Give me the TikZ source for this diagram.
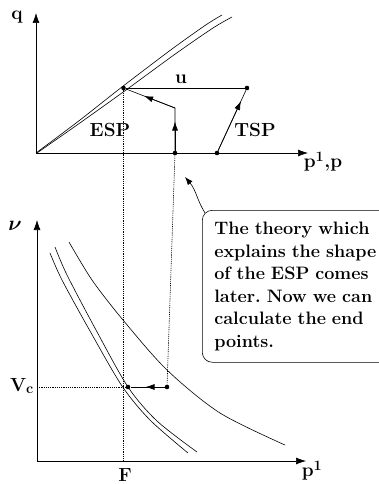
\documentclass[tikz,border=0pt]{standalone}
\usepackage{amsmath,bm}
\usetikzlibrary{arrows.meta,calc}
\frenchspacing

\begin{document}
\begin{tikzpicture}[x=1pt, y=-1pt,
    axis/.style={-{Latex[length=10pt,width=7pt]}, line width=0.6pt},
    trace/.style={line width=0.6pt},
    flow/.style={-{Latex[length=9pt,width=6pt]}, line width=0.7pt},
    guide/.style={dash pattern=on 1.2pt off 1pt, line width=0.6pt},
    dot/.style={circle, fill, inner sep=0pt, minimum size=4.6pt},
    lbl/.style={font=\fontsize{19}{22}\selectfont\bfseries, inner sep=0pt},
    note/.style={draw, rounded corners=10pt, line width=0.6pt, align=left,
                 font=\fontsize{18}{22.5}\selectfont\bfseries,
                 text width=185pt, minimum height=152pt, inner xsep=12pt, inner ysep=0pt}
  ]
  \useasboundingbox (0,0) rectangle (379,484);
  \clip (0,0) rectangle (379,484);
  % upper diagram
  \coordinate (O1) at (36,153);
  \coordinate (qtip) at (36,13);
  \coordinate (ptip1) at (308,153);
  \draw[axis] (O1) -- (qtip);
  \draw[axis] (O1) -- (ptip1);
  \draw[trace] plot[smooth] coordinates {(36,153) (80,120) (120,88.5) (170,50.5) (205,25.5) (222,15)};
  \draw[trace] plot[smooth] coordinates {(37,153) (82,121.5) (126,90) (176,53.5) (213,28) (232,17)};
  \node[dot] (esp) at (123.5,88) {};
  \node[dot] (tsp) at (247,88) {};
  \node[dot] (start) at (175,153) {};
  \node[dot] (tsp0) at (217,153) {};
  \coordinate (bend) at (175,108);
  \draw[trace] (esp) -- (tsp);
  \draw[trace] (start) -- (bend) -- (esp);
  \draw[flow] (start) -- ($(start)!0.7!(bend)$);
  \draw[flow] (bend) -- ($(bend)!0.6!(esp)$);
  \draw[trace] (tsp0) -- (tsp);
  \draw[flow] (tsp0) -- ($(tsp0)!0.8!(tsp)$);
  \node[lbl] (qlab) at (17,17) {q};
  \node[lbl] (ulab) at (181,79) {u};
  \node[lbl] (esplab) at (110,130) {ESP};
  \node[lbl] (tsplab) at (255,130) {TSP};
  \node[lbl] (plab1) at (323,162) {p$^{\mathbf{1}}$,p};
  % lower diagram
  \coordinate (O2) at (37,461);
  \coordinate (nutip) at (37,220);
  \coordinate (ptip2) at (306,461);
  \draw[axis] (O2) -- (nutip);
  \draw[axis] (O2) -- (ptip2);
  \draw[trace] plot[smooth] coordinates {(50,253) (62,280) (90,331) (122,386) (150,420) (188,453)};
  \draw[trace] plot[smooth] coordinates {(55,247) (67,275) (96,330) (128,387) (157,421) (197,452)};
  \draw[trace] plot[smooth] coordinates {(69,242) (92,280) (123,320) (167,370) (220,413) (285,445)};
  \node[dot] (endv) at (128,387) {};
  \node[dot] (startv) at (167,387) {};
  \draw[trace] (startv) -- (endv);
  \draw[flow] (startv) -- ($(startv)!0.55!(endv)$);
  \coordinate (vcaxis) at (37,387);
  \coordinate (faxis) at (123.5,461);
  \draw[guide] (esp) -- (faxis);
  \draw[guide] (start) -- (startv);
  \draw[guide] (vcaxis) -- (endv);
  \node[lbl, font=\fontsize{22}{22}\selectfont] (nulab) at (15,226) {$\bm{\nu}$};
  \node[lbl] (vclab) at (22,386) {V$_{\mathbf{c}}$};
  \node[lbl] (flab) at (125,475) {F};
  \node[lbl] (plab2) at (312,471) {p$^{\mathbf{1}}$};
  % note
  \node[note, anchor=north west] (memo) at (202,210) {The theory which\\
    explains the shape\\ of the ESP comes\\ later. Now we can\\ calculate the end\\ points.};
  \coordinate (hint) at (185,177);
  \draw[-{Latex[length=8pt,width=6pt]}, line width=0.6pt] ($(memo.north west)+(3,3)$)
    .. controls (197,200) and (196,190) .. (hint);
\end{tikzpicture}
\end{document}
